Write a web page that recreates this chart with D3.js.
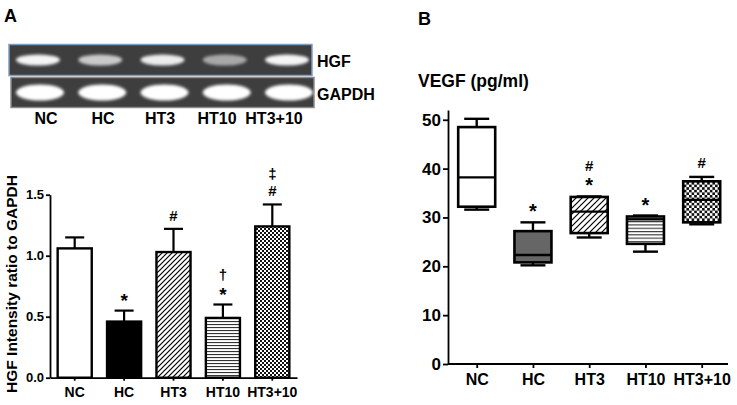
<!DOCTYPE html>
<html>
<head>
<meta charset="utf-8">
<script src="https://cdn.jsdelivr.net/npm/d3@7"></script>
<style>
  body { margin: 0; background: #fff; }
  svg { display: block; font-family: "Liberation Sans", Arial, sans-serif; font-weight: bold; }
  svg text { fill: #000; }
  .axis path, .axis line { stroke: #000; stroke-width: 1.8; }
  .axis text { font-weight: bold; fill: #000; }
</style>
</head>
<body>
<svg id="chart" width="737" height="405"></svg>
<script>
/* ------------------------------------------------------------
   DATA
------------------------------------------------------------ */
const groups = ["NC", "HC", "HT3", "HT10", "HT3+10"];

// panel A - gel band brightness (0..1)
const hgfBand = [0.95, 0.72, 0.9, 0.55, 0.95];
const gapdhBand = [1, 1, 1, 1, 1];

// panel A - bar chart
const hgfMean = [1.06, 0.46, 1.03, 0.49, 1.24];
const hgfErr = [0.09, 0.09, 0.19, 0.11, 0.18];
const hgfMarks = [[], ["*"], ["#"], ["*", "†"], ["#", "‡"]];
const hgfTicks = [0, 0.5, 1.0, 1.5];

// panel B - box plot
const vegfMin = [31.6, 20.2, 25.9, 23.0, 28.6];
const vegfQ1 = [32.2, 20.8, 26.8, 24.6, 29.0];
const vegfMed = [38.2, 22.3, 31.2, 29.6, 33.6];
const vegfQ3 = [48.5, 27.2, 34.2, 30.2, 37.4];
const vegfMax = [50.2, 29.0, 34.3, 30.4, 38.3];
const vegfMarks = [[], ["*"], ["*", "#"], ["*"], ["#"]];
const vegfTicks = [0, 10, 20, 30, 40, 50];

// fill style per group
const fills = ["white", "black", "url(#diag)", "url(#horiz)", "url(#check)"];
const boxFills = ["white", "#666", "url(#diagB)", "url(#horizB)", "url(#checkB)"];

/* ------------------------------------------------------------
   SVG + PATTERNS
------------------------------------------------------------ */
const svg = d3.select("#chart");
const defs = svg.append("defs");

function diagPattern(id, size) {
    const p = defs.append("pattern").attr("id", id).attr("patternUnits", "userSpaceOnUse")
        .attr("width", size).attr("height", size);
    p.append("rect").attr("width", size).attr("height", size).attr("fill", "white");
    p.append("path")
        .attr("d", `M0,${size} L${size},0 M${-size / 2},${size / 2} L${size / 2},${-size / 2} M${size / 2},${size * 1.5} L${size * 1.5},${size / 2}`)
        .attr("stroke", "#000").attr("stroke-width", 1.2);
}
function horizPattern(id, h) {
    const p = defs.append("pattern").attr("id", id).attr("patternUnits", "userSpaceOnUse")
        .attr("width", 4).attr("height", h);
    p.append("rect").attr("width", 4).attr("height", h).attr("fill", "white");
    p.append("rect").attr("width", 4).attr("height", 1.1).attr("fill", "#333");
}
function checkPattern(id, c) {
    const p = defs.append("pattern").attr("id", id).attr("patternUnits", "userSpaceOnUse")
        .attr("width", c * 2).attr("height", c * 2);
    p.append("rect").attr("width", c * 2).attr("height", c * 2).attr("fill", "white");
    p.append("rect").attr("width", c).attr("height", c).attr("fill", "#111");
    p.append("rect").attr("x", c).attr("y", c).attr("width", c).attr("height", c).attr("fill", "#111");
}
diagPattern("diag", 5);
horizPattern("horiz", 3);
checkPattern("check", 2);
diagPattern("diagB", 6);
horizPattern("horizB", 3.3);
checkPattern("checkB", 2.6);

defs.append("filter").attr("id", "blur").attr("x", "-30%").attr("y", "-60%")
    .attr("width", "160%").attr("height", "220%")
    .append("feGaussianBlur").attr("stdDeviation", 1.8);

/* ------------------------------------------------------------
   PANEL A - GEL
------------------------------------------------------------ */
svg.append("text").attr("x", 4).attr("y", 22).attr("font-size", 18).text("A");

const laneX = d3.scalePoint().domain(groups).range([38, 287]);
const laneLabelX = d3.scalePoint().domain(groups).range([46, 274]);

function gelStrip(y, h, x0, border, bands, bw, bh) {
    const g = svg.append("g");
    g.append("rect").attr("x", x0).attr("y", y).attr("width", 303).attr("height", h)
        .attr("fill", "#3e3e3e").attr("stroke", border).attr("stroke-width", 1.5);
    g.selectAll("ellipse").data(groups).join("ellipse")
        .attr("cx", d => laneX(d) + (x0 - 9))
        .attr("cy", y + h / 2)
        .attr("rx", bw / 2).attr("ry", bh / 2)
        .attr("fill", "#fff")
        .attr("opacity", (d, i) => bands[i])
        .attr("filter", "url(#blur)");
}
gelStrip(44.5, 31, 9, "#7f9cc4", hgfBand, 44, 11);
gelStrip(77.5, 30, 11, "#8a8a8a", gapdhBand, 48, 16);

svg.append("text").attr("x", 317).attr("y", 67).attr("font-size", 16).text("HGF");
svg.append("text").attr("x", 317).attr("y", 100).attr("font-size", 16).text("GAPDH");

svg.selectAll(".lane").data(groups).join("text")
    .attr("class", "lane")
    .attr("x", d => laneLabelX(d)).attr("y", 124)
    .attr("text-anchor", "middle").attr("font-size", 16)
    .text(d => d);

/* ------------------------------------------------------------
   PANEL A - BAR CHART
------------------------------------------------------------ */
const xA = d3.scaleBand().domain(groups).range([50, 297]).paddingInner(0.31).paddingOuter(0.155);
const yA = d3.scaleLinear().domain([0, 1.5]).range([377.7, 194.7]);

const gA = svg.append("g");

// error bars
gA.selectAll(".err").data(groups).join("line")
    .attr("x1", d => xA(d) + xA.bandwidth() / 2).attr("x2", d => xA(d) + xA.bandwidth() / 2)
    .attr("y1", (d, i) => yA(hgfMean[i])).attr("y2", (d, i) => yA(hgfMean[i] + hgfErr[i]))
    .attr("stroke", "#000").attr("stroke-width", 2.2);
gA.selectAll(".cap").data(groups).join("line")
    .attr("x1", d => xA(d) + xA.bandwidth() / 2 - 9.5).attr("x2", d => xA(d) + xA.bandwidth() / 2 + 9.5)
    .attr("y1", (d, i) => yA(hgfMean[i] + hgfErr[i])).attr("y2", (d, i) => yA(hgfMean[i] + hgfErr[i]))
    .attr("stroke", "#000").attr("stroke-width", 2.2);

// bars
gA.selectAll(".bar").data(groups).join("rect")
    .attr("x", d => xA(d)).attr("width", xA.bandwidth())
    .attr("y", (d, i) => yA(hgfMean[i]))
    .attr("height", (d, i) => yA(0) - yA(hgfMean[i]))
    .attr("fill", (d, i) => fills[i])
    .attr("stroke", "#000").attr("stroke-width", 2.4);

// significance marks
groups.forEach((d, i) => {
    hgfMarks[i].forEach((m, k) => {
        gA.append("text")
            .attr("x", xA(d) + xA.bandwidth() / 2)
            .attr("y", yA(hgfMean[i] + hgfErr[i]) - (m === "*" ? 4 : 8) - k * 17)
            .attr("text-anchor", "middle").attr("font-size", m === "*" ? 19 : 15)
            .attr("fill", "#000")
            .text(m);
    });
});

// axes
gA.append("g").attr("class", "axis")
    .attr("transform", `translate(50,0)`)
    .call(d3.axisLeft(yA).tickValues(hgfTicks).tickFormat(d3.format(".1f")).tickSize(4).tickSizeOuter(0).tickPadding(2))
    .selectAll("text").attr("font-size", 13);
gA.append("g").attr("class", "axis")
    .attr("transform", `translate(0,${yA(0)})`)
    .call(d3.axisBottom(xA).tickSize(3).tickSizeOuter(0).tickPadding(6))
    .selectAll("text").attr("font-size", 14);

svg.append("text")
    .attr("transform", `translate(17,284) rotate(-90)`)
    .attr("text-anchor", "middle").attr("font-size", 15.5)
    .text("HGF Intensity ratio to GAPDH");

/* ------------------------------------------------------------
   PANEL B - BOX PLOT
------------------------------------------------------------ */
svg.append("text").attr("x", 418).attr("y", 25).attr("font-size", 18).text("B");
svg.append("text").attr("x", 418).attr("y", 87).attr("font-size", 17.5).text("VEGF (pg/ml)");

const xB = d3.scalePoint().domain(groups).range([476.7, 701.7]);
const yB = d3.scaleLinear().domain([0, 52]).range([364, 110]);
const boxW = 37, capW = 25;

const gB = svg.append("g");

groups.forEach((d, i) => {
    const cx = xB(d);
    const g = gB.append("g");
    // whiskers
    g.append("line").attr("x1", cx).attr("x2", cx)
        .attr("y1", yB(vegfMax[i])).attr("y2", yB(vegfQ3[i]))
        .attr("stroke", "#000").attr("stroke-width", 2.4);
    g.append("line").attr("x1", cx).attr("x2", cx)
        .attr("y1", yB(vegfQ1[i])).attr("y2", yB(vegfMin[i]))
        .attr("stroke", "#000").attr("stroke-width", 2.4);
    [vegfMax[i], vegfMin[i]].forEach(v => {
        g.append("line").attr("x1", cx - capW / 2).attr("x2", cx + capW / 2)
            .attr("y1", yB(v)).attr("y2", yB(v))
            .attr("stroke", "#000").attr("stroke-width", 2.4);
    });
    // box
    g.append("rect").attr("x", cx - boxW / 2).attr("width", boxW)
        .attr("y", yB(vegfQ3[i])).attr("height", yB(vegfQ1[i]) - yB(vegfQ3[i]))
        .attr("fill", boxFills[i]).attr("stroke", "#000").attr("stroke-width", 2.6);
    // median
    g.append("line").attr("x1", cx - boxW / 2).attr("x2", cx + boxW / 2)
        .attr("y1", yB(vegfMed[i])).attr("y2", yB(vegfMed[i]))
        .attr("stroke", "#000").attr("stroke-width", 2.4);
    // marks
    vegfMarks[i].forEach((m, k) => {
        g.append("text").attr("x", cx)
            .attr("y", yB(vegfMax[i]) - (m === "*" ? 4 : 9) - k * 16)
            .attr("text-anchor", "middle").attr("font-size", m === "*" ? 20 : 15)
            .attr("fill", "#000")
            .text(m);
    });
});

gB.append("g").attr("class", "axis")
    .attr("transform", `translate(448,0)`)
    .call(d3.axisLeft(yB).tickValues(vegfTicks).tickSize(5).tickSizeOuter(0).tickPadding(2))
    .selectAll("text").attr("font-size", 17);
const xAxisB = gB.append("g").attr("class", "axis")
    .attr("transform", `translate(0,${yB(0)})`)
    .call(d3.axisBottom(xB).tickSize(4).tickSizeOuter(0).tickPadding(6));
xAxisB.select(".domain").attr("d", `M448,0H728`);
xAxisB.selectAll("text").attr("font-size", 16);
</script>
</body>
</html>
